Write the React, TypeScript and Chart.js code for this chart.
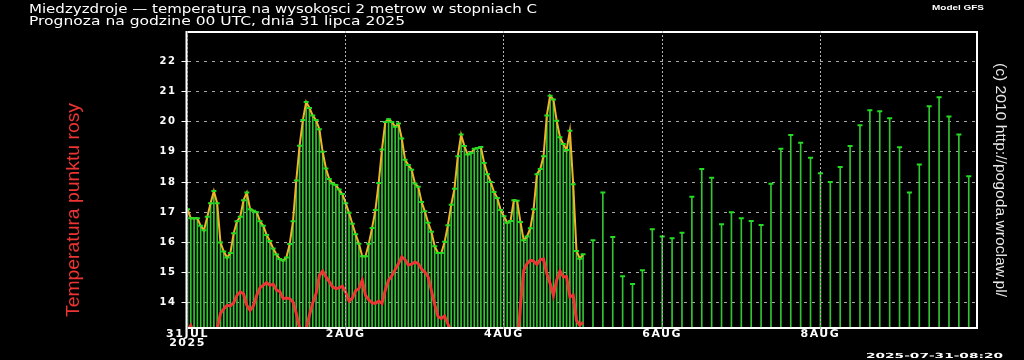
import React, { useEffect, useRef } from 'react';
import { Chart, registerables } from 'chart.js';

Chart.register(...registerables);

// ---- texts ----
const TITLE_1 = 'Miedzyzdroje — temperatura na wysokosci 2 metrow w stopniach C';
const TITLE_2 = 'Prognoza na godzine 00 UTC, dnia 31 lipca 2025';
const MODEL = 'Model GFS';
const DEW_LABEL = 'Temperatura punktu rosy';
const COPYRIGHT = '(c) 2010 http://pogoda.wroclaw.pl/';
const STAMP = '2025-07-31-08:20';

// ---- axis ----
const X_TICKS = [0, 48, 96, 144, 192];
const X_TICK_LABELS: (string | string[])[] = [['31JUL', '2025'], '2AUG', '4AUG', '6AUG', '8AUG'];
const Y_TICKS = [14, 15, 16, 17, 18, 19, 20, 21, 22];
const Y_MIN = 13.2;
const Y_MAX = 23;
const X_MIN = 0;
const X_MAX = 239.5;

// ---- data: hourly forecast, hours 0..120 from 31 JUL 00 UTC ----
const hourlyTemp = [
  17.1, 16.8, 16.8, 16.8, 16.55, 16.4, 16.85, 17.3, 17.7, 17.3,
  16.0, 15.7, 15.5, 15.65, 16.3, 16.7, 16.85, 17.4, 17.65, 17.1,
  17.05, 17.0, 16.7, 16.55, 16.25, 16.05, 15.8, 15.6, 15.45, 15.4,
  15.5, 15.95, 16.7, 18.05, 19.2, 20.05, 20.65, 20.45, 20.2, 20.05,
  19.75, 19.0, 18.45, 18.1, 17.95, 17.9, 17.75, 17.6, 17.3, 16.98,
  16.62, 16.27, 15.96, 15.54, 15.54, 15.96, 16.48, 17.07, 17.97, 19.08,
  19.99, 20.08, 19.99, 19.83, 19.94, 19.44, 18.74, 18.56, 18.41, 17.95,
  17.84, 17.34, 17.03, 16.65, 16.35, 15.87, 15.65, 15.65, 16.02, 16.57,
  17.25, 17.78, 18.85, 19.57, 19.19, 18.91, 18.96, 19.1, 19.13, 19.16,
  18.63, 18.26, 18.0, 17.67, 17.47, 17.07, 16.87, 16.65, 16.71, 17.4,
  17.38, 16.68, 16.07, 16.2, 16.47, 17.1, 18.26, 18.43, 18.85, 20.2,
  20.86, 20.73, 20.03, 19.48, 19.26, 19.06, 19.7, 17.93, 15.72, 15.46,
  15.61,
];

const hourlyDew = [
  13.05, 13.25, 13.0, 12.8, 12.7, 12.6, 12.6, 12.7, 12.8, 13.15,
  13.65, 13.8, 13.92, 13.9, 14.0, 14.25, 14.36, 14.3, 13.92, 13.75,
  13.9, 14.25, 14.5, 14.58, 14.67, 14.58, 14.62, 14.42, 14.38, 14.14,
  14.16, 14.14, 14.03, 13.65, 13.15, 12.8, 13.1, 13.6, 14.0, 14.3,
  14.9, 15.05, 14.86, 14.7, 14.53, 14.47, 14.5, 14.55, 14.35, 14.06,
  14.15, 14.4, 14.47, 14.75, 14.25, 14.1, 14.0, 13.98, 14.06, 13.98,
  14.42, 14.75, 14.9, 15.1, 15.3, 15.52, 15.43, 15.25, 15.28, 15.35,
  15.3, 15.12, 15.02, 14.86, 14.4, 13.95, 13.55, 13.48, 13.56, 13.3,
  13.05, 12.8, 12.7, 12.6, 12.5, 12.5, 12.6, 12.7, 12.8, 12.8,
  12.7, 12.6, 12.5, 12.4, 12.4, 12.5, 12.6, 12.6, 12.5, 12.4,
  12.5, 13.9, 15.08, 15.3, 15.41, 15.38, 15.27, 15.43, 15.45, 14.97,
  14.64, 14.25, 14.75, 15.06, 14.86, 14.86, 14.2, 14.25, 13.42, 13.26,
  13.36,
];

// ---- data: 3-hourly forecast ----
const threeHourHours = [
  123, 126, 129, 132, 135, 138, 141, 144, 147, 150,
  153, 156, 159, 162, 165, 168, 171, 174, 177, 180,
  183, 186, 189, 192, 195, 198, 201, 204, 207, 210,
  213, 216, 219, 222, 225, 228, 231, 234, 237,
];
const threeHourTemp = [
  16.07, 17.65, 16.18, 14.88, 14.62, 15.08, 16.44, 16.2, 16.14, 16.32,
  17.51, 18.43, 18.14, 16.6, 17.0, 16.8, 16.71, 16.58, 17.94, 19.1,
  19.56, 19.3, 18.8, 18.29, 18.0, 18.5, 19.19, 19.88, 20.38, 20.34,
  20.11, 19.15, 17.65, 18.58, 20.51, 20.81, 20.17, 19.57, 18.19,
];

const LETTER_SPACING: Record<string, string> = { x: '1.5px', y: '1.5px' };

function fitText(
  ctx: CanvasRenderingContext2D,
  text: string,
  x: number,
  y: number,
  width: number,
  font: string,
  color: string,
  rotation = 0,
  align: CanvasTextAlign = 'left'
) {
  ctx.save();
  (ctx as any).letterSpacing = '0px';
  ctx.font = font;
  const m = ctx.measureText(text).width || 1;
  ctx.translate(x, y);
  if (rotation) ctx.rotate(rotation);
  ctx.scale(width / m, 1);
  ctx.fillStyle = color;
  ctx.textAlign = align;
  ctx.textBaseline = 'alphabetic';
  ctx.fillText(text, 0, 0);
  ctx.restore();
}

const decorPlugin = {
  id: 'decor',
  beforeDraw(chart: any) {
    const c = chart.ctx as CanvasRenderingContext2D;
    c.save();
    c.fillStyle = '#000';
    c.fillRect(0, 0, chart.width, chart.height);
    c.restore();
    Object.values(chart.scales).forEach((s: any) => {
      if (s.__lsPatched) return;
      const orig = s.drawLabels;
      s.drawLabels = function (area: any) {
        const cx = this.ctx as any;
        const prev = cx.letterSpacing;
        cx.letterSpacing = LETTER_SPACING[this.id] || '0px';
        orig.call(this, area);
        cx.letterSpacing = prev || '0px';
      };
      s.__lsPatched = true;
    });
  },
  afterDatasetsDraw(chart: any) {
    const c = chart.ctx as CanvasRenderingContext2D;
    const a = chart.chartArea;
    c.save();
    c.strokeStyle = '#ffffff';
    c.lineWidth = 2;
    c.strokeRect(a.left - 1, a.top + 1, a.right - a.left + 1, a.bottom - a.top);
    c.restore();
  },
  afterDraw(chart: any) {
    const c = chart.ctx as CanvasRenderingContext2D;
    fitText(c, TITLE_1, 29, 12.7, 508, '12px "DejaVu Sans"', '#ffffff');
    fitText(c, TITLE_2, 29, 25.3, 376, '12px "DejaVu Sans"', '#ffffff');
    fitText(c, MODEL, 932, 9.5, 52, 'bold 7.5px "Liberation Sans"', '#ffffff');
    fitText(c, STAMP, 866, 357.7, 137, 'bold 7px "DejaVu Sans"', '#ffffff');
    fitText(c, DEW_LABEL, 79, 210, 214, '19px "Liberation Sans"', '#ee3333', -Math.PI / 2, 'center');
    fitText(c, COPYRIGHT, 995.5, 180, 234, '15.5px "Liberation Sans"', '#e8e8e8', Math.PI / 2, 'center');
  },
};

export default function App() {
  const ref = useRef<HTMLCanvasElement | null>(null);

  useEffect(() => {
    document.body.style.margin = '0';
    document.body.style.background = '#000';
    const canvas = ref.current;
    if (!canvas) return;

    const tempLine = hourlyTemp.map((v, i) => ({ x: i, y: v }));
    const dewLine = hourlyDew.map((v, i) => ({ x: i, y: v }));
    const threeHour = threeHourTemp.map((v, i) => ({ x: threeHourHours[i], y: v }));
    const allPoints = [...tempLine, ...threeHour];

    const chart = new Chart(canvas, {
      type: 'bar',
      data: {
        datasets: [
          {
            type: 'line',
            label: 'caps',
            data: allPoints,
            showLine: false,
            pointStyle: 'line',
            pointRadius: 2.5,
            pointHoverRadius: 2.5,
            pointBorderWidth: 2,
            pointBorderColor: '#22dd22',
            pointBackgroundColor: '#22dd22',
            borderColor: '#22dd22',
            order: 0,
          } as any,
          {
            type: 'line',
            label: 'dew',
            data: dewLine,
            borderColor: '#ee3535',
            borderWidth: 3,
            pointRadius: 0,
            tension: 0,
            order: 1,
            clip: 0,
          } as any,
          {
            type: 'line',
            label: 'temp',
            data: tempLine,
            borderColor: '#f0b428',
            borderWidth: 2,
            pointRadius: 0,
            tension: 0,
            order: 2,
          } as any,
          {
            type: 'bar',
            label: 'bars',
            data: allPoints,
            backgroundColor: '#33c433',
            borderWidth: 0,
            barThickness: 1,
            grouped: false,
            base: Y_MIN,
            order: 3,
          } as any,
        ],
      },
      options: {
        animation: false,
        responsive: false,
        events: [],
        layout: { padding: { left: 0, right: 47, top: 31, bottom: 0 } },
        plugins: {
          legend: { display: false },
          tooltip: { enabled: false },
          title: { display: false },
        },
        scales: {
          x: {
            type: 'linear',
            min: X_MIN,
            max: X_MAX,
            offset: false,
            afterBuildTicks: (s: any) => {
              s.ticks = X_TICKS.map((v) => ({ value: v }));
            },
            afterFit: (s: any) => {
              s.height = 33;
            },
            grid: {
              offset: false,
              z: 1,
              lineWidth: 1,
              color: '#b4b4b4',
              tickColor: '#b4b4b4',
              tickLength: 3,
              tickBorderDash: [2, 2],
            },
            border: { display: false, dash: [2, 2] },
            ticks: {
              autoSkip: false,
              maxRotation: 0,
              minRotation: 0,
              padding: 0,
              color: '#ffffff',
              font: { family: 'DejaVu Sans', weight: 'bold', size: 11, lineHeight: 0.82 },
              callback: (v: any) => {
                const i = X_TICKS.indexOf(Number(v));
                return i >= 0 ? X_TICK_LABELS[i] : '';
              },
            },
          },
          y: {
            type: 'linear',
            min: Y_MIN,
            max: Y_MAX,
            afterBuildTicks: (s: any) => {
              s.ticks = Y_TICKS.map((v) => ({ value: v }));
            },
            afterFit: (s: any) => {
              s.width = 187.5;
            },
            grid: {
              lineWidth: 1,
              color: '#a8a8a8',
              tickColor: '#ffffff',
              tickLength: 6,
              tickBorderDash: [],
            },
            border: { display: false, dash: [3, 5] },
            ticks: {
              padding: 5,
              color: '#ffffff',
              font: { family: 'DejaVu Sans', weight: 'bold', size: 10 },
              callback: (v: any) => String(v),
            },
          },
        },
      } as any,
      plugins: [decorPlugin as any],
    });

    return () => {
      chart.destroy();
    };
  }, []);

  return (
    <div style={{ width: 1024, height: 360, background: '#000' }}>
      <canvas ref={ref} width={1024} height={360} style={{ display: 'block' }} />
    </div>
  );
}
